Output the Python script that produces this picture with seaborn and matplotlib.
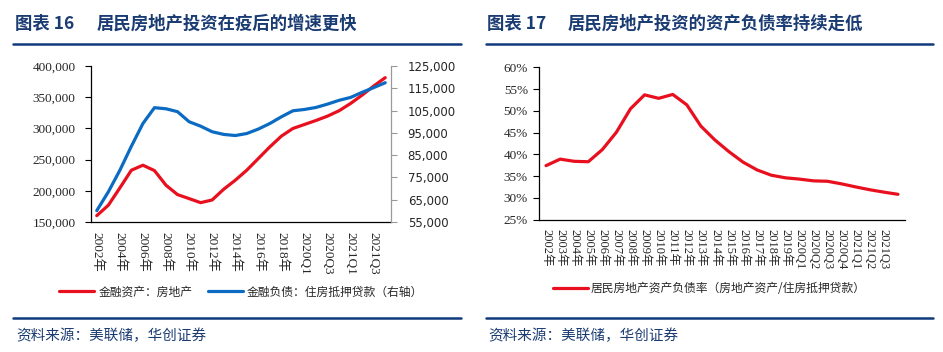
import numpy as np
import pandas as pd
import matplotlib
matplotlib.use("Agg")
import matplotlib.pyplot as plt
import seaborn as sns
from matplotlib.ticker import FuncFormatter, FixedLocator
from matplotlib.lines import Line2D

sns.set_theme(style="white")
plt.rcParams['font.family'] = ['Liberation Serif', 'Noto Sans CJK SC', 'DejaVu Sans']
plt.rcParams['axes.unicode_minus'] = False

# ---------------- data ----------------
periods = ["2002年", "2003年", "2004年", "2005年", "2006年", "2007年", "2008年",
           "2009年", "2010年", "2011年", "2012年", "2013年", "2014年", "2015年",
           "2016年", "2017年", "2018年", "2019年", "2020Q1", "2020Q2", "2020Q3",
           "2020Q4", "2021Q1", "2021Q2", "2021Q3", "2021Q4"]

# 金融资产：房地产 (left axis)
re_assets = [160200, 176800, 204600, 233000, 241000, 232400, 208900, 193900,
             187500, 181000, 185300, 202500, 216900, 233000, 251700, 270400,
             287600, 299900, 306300, 312700, 319700, 328300, 340000, 353400,
             367900, 381300]
# 金融负债：住房抵押贷款 (right axis)
mortgage = [60100, 68500, 78200, 89000, 99200, 106300, 105800, 104500,
            100000, 98000, 95500, 94300, 93800, 94700, 96700, 99200,
            102200, 104900, 105500, 106400, 107900, 109600, 110900, 113200,
            115300, 117500]
# 居民房地产资产负债率 (%)
leverage = [37.4, 38.9, 38.4, 38.3, 41.1, 45.1, 50.5, 53.7, 52.9, 53.8, 51.4,
            46.5, 43.3, 40.6, 38.2, 36.4, 35.2, 34.6, 34.3, 33.9, 33.8, 33.2,
            32.5, 31.85, 31.3, 30.8]

left_title_no = "图表 16"
left_title = "居民房地产投资在疫后的增速更快"
right_title_no = "图表 17"
right_title = "居民房地产投资的资产负债率持续走低"
label_assets = "金融资产：房地产"
label_mortgage = "金融负债：住房抵押贷款（右轴）"
label_leverage = "居民房地产资产负债率（房地产资产/住房抵押贷款）"
source = "资料来源：美联储，华创证券"

left_yticks = [150000, 200000, 250000, 300000, 350000, 400000]
right_yticks = [55000, 65000, 75000, 85000, 95000, 105000, 115000, 125000]
pct_yticks = [25, 30, 35, 40, 45, 50, 55, 60]

RED = "#E8101E"
BLUE = "#0B6BC2"
NAVY = "#1B3C73"
RULE = "#0E3A7C"

df = pd.DataFrame({"period": periods,
                   "pos": np.arange(len(periods)),
                   "assets": re_assets,
                   "mortgage": mortgage,
                   "leverage": leverage})

W, H = 943, 352
fig = plt.figure(figsize=(W / 100, H / 100), dpi=100)

def fx(px):
    return px / W

def fy(px):
    return 1 - px / H

n = len(periods)
centers = np.arange(n)
bounds = np.arange(n + 1) - 0.5

# ---------------- left chart ----------------
ax1 = fig.add_axes([fx(91), fy(222), fx(391 - 91), (222 - 66) / H])
ax2 = ax1.twinx()
sns.lineplot(data=df, x="pos", y="assets", ax=ax1, color=RED, lw=2.3, legend=False)
sns.lineplot(data=df, x="pos", y="mortgage", ax=ax2, color=BLUE, lw=2.3, legend=False)
ax1.set_xlim(-0.5, n - 0.5)
ax1.set_ylim(150000, 400000)
ax2.set_ylim(55000, 125000)
ax1.set_xlabel("")
ax1.set_ylabel("")
ax2.set_ylabel("")
ax1.yaxis.set_major_locator(FixedLocator(left_yticks))
ax2.yaxis.set_major_locator(FixedLocator(right_yticks))
fmt = FuncFormatter(lambda v, p: f"{v:,.0f}")
ax1.yaxis.set_major_formatter(fmt)
ax2.yaxis.set_major_formatter(fmt)
ax1.xaxis.set_major_locator(FixedLocator(centers[::2]))
ax1.set_xticklabels(periods[::2], rotation=270, ha="center", va="top")
ax1.xaxis.set_minor_locator(FixedLocator(bounds))
ax1.tick_params(axis="x", which="major", length=0, pad=7, labelsize=9.5)
ax1.tick_params(axis="x", which="minor", length=4, width=0.8, color="black", direction="out")
ax1.tick_params(axis="y", length=4, width=0.8, color="black", direction="out",
                pad=7, labelsize=9.5, left=True)
ax2.tick_params(axis="y", length=4, width=0.8, color="#999999", direction="out",
                pad=8, labelsize=8.5, right=True)
for lab in ax2.get_yticklabels():
    lab.set_fontfamily(["DejaVu Sans"])
for ax in (ax1, ax2):
    ax.spines["top"].set_visible(False)
    ax.grid(False)
ax1.spines["left"].set_color("black")
ax1.spines["bottom"].set_color("black")
ax1.spines["right"].set_visible(False)
ax2.spines["left"].set_visible(False)
ax2.spines["bottom"].set_visible(False)
ax2.spines["right"].set_color("#999999")
for s in ("left", "bottom"):
    ax1.spines[s].set_linewidth(0.9)
ax2.spines["right"].set_linewidth(0.9)
ax1.set_facecolor("none")
ax2.set_facecolor("none")

fig.legend(handles=[ax1.get_lines()[0], ax2.get_lines()[0]],
           labels=[label_assets, label_mortgage],
           loc="center", bbox_to_anchor=(fx(241), fy(292)), ncol=2,
           frameon=False, handlelength=3.0, handletextpad=0.35,
           columnspacing=1.3, prop={"family": ["Noto Sans CJK SC"], "size": 8.5})

# ---------------- right chart ----------------
ax3 = fig.add_axes([fx(539), fy(219.5), fx(905 - 539), (219.5 - 67.5) / H])
sns.lineplot(data=df, x="pos", y="leverage", ax=ax3, color=RED, lw=2.3, legend=False)
ax3.set_xlim(-0.5, n - 0.5)
ax3.set_ylim(25, 60)
ax3.set_xlabel("")
ax3.set_ylabel("")
ax3.yaxis.set_major_locator(FixedLocator(pct_yticks))
ax3.yaxis.set_major_formatter(FuncFormatter(lambda v, p: f"{v:.0f}%"))
ax3.xaxis.set_major_locator(FixedLocator(centers[:-1]))
ax3.set_xticklabels(periods[:-1], rotation=270, ha="center", va="top")
ax3.xaxis.set_minor_locator(FixedLocator(bounds))
ax3.tick_params(axis="x", which="major", length=0, pad=7, labelsize=9)
ax3.tick_params(axis="x", which="minor", length=4, width=0.8, color="black", direction="out")
ax3.tick_params(axis="y", length=4, width=0.8, color="black", direction="out",
                pad=4, labelsize=9.5, left=True)
ax3.spines["top"].set_visible(False)
ax3.spines["right"].set_visible(False)
ax3.spines["left"].set_color("black")
ax3.spines["bottom"].set_color("black")
ax3.spines["left"].set_linewidth(0.9)
ax3.spines["bottom"].set_linewidth(0.9)
ax3.grid(False)

fig.legend(handles=[ax3.get_lines()[0]], labels=[label_leverage],
           loc="center", bbox_to_anchor=(fx(709), fy(289)), ncol=1,
           frameon=False, handlelength=3.0, handletextpad=0.2,
           prop={"family": ["Noto Sans CJK SC"], "size": 8.5})

# ---------------- titles, rules, sources ----------------
tfont = ["Noto Sans CJK SC", "DejaVu Sans"]
fig.text(fx(15), fy(24), left_title_no, color=NAVY, fontsize=12.5, fontweight="bold",
         family=tfont, va="center", ha="left")
fig.text(fx(97), fy(24), left_title, color=NAVY, fontsize=12.5, fontweight="bold",
         family=tfont, va="center", ha="left")
fig.text(fx(487), fy(24), right_title_no, color=NAVY, fontsize=12.5, fontweight="bold",
         family=tfont, va="center", ha="left")
fig.text(fx(568), fy(24), right_title, color=NAVY, fontsize=12.5, fontweight="bold",
         family=tfont, va="center", ha="left")

for (x0, x1) in ((13, 461), (486, 933)):
    for yy in (44, 317.5):
        fig.add_artist(Line2D([fx(x0), fx(x1)], [fy(yy), fy(yy)], color=RULE, lw=1.8,
                              transform=fig.transFigure))

fig.text(fx(16), fy(336), source, color=NAVY, fontsize=10.5, family=tfont,
         va="center", ha="left")
fig.text(fx(488), fy(336), source, color=NAVY, fontsize=10.5, family=tfont,
         va="center", ha="left")

fig.savefig("out.png", dpi=100, facecolor="white")
